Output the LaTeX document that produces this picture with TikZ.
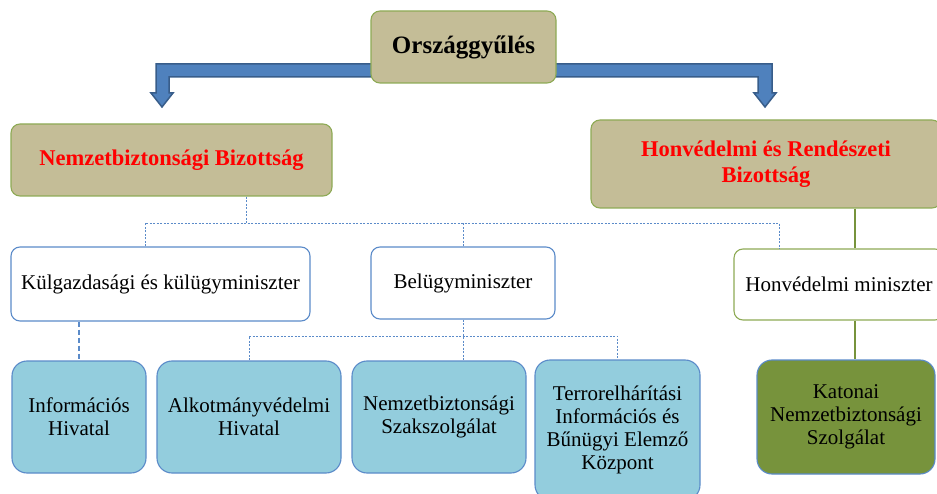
\documentclass[tikz,border=0pt]{standalone}
\usepackage{fontspec}
\setmainfont{Liberation Serif}
\usetikzlibrary{positioning}
\definecolor{tanfill}{HTML}{C4BD97}
\definecolor{bizline}{HTML}{8EAA55}
\definecolor{boxblue}{HTML}{5B8BC9}
\definecolor{lightblue}{HTML}{93CDDD}
\definecolor{armygreen}{HTML}{77933C}
\definecolor{arrowfill}{HTML}{4F81BD}
\definecolor{arrowline}{HTML}{385D8A}

\begin{document}
\begin{tikzpicture}[x=1pt, y=-1pt,
    box/.style={draw, rounded corners=9pt, align=center, inner sep=0pt, line width=1.1pt},
    parlbox/.style={box, fill=tanfill, draw=bizline, font=\bfseries\fontsize{25}{28}\selectfont},
    comm/.style={box, fill=tanfill, draw=bizline, text=red, font=\bfseries\fontsize{22.5}{26}\selectfont},
    mini/.style={box, fill=white, draw=boxblue, font=\fontsize{21}{23}\selectfont},
    serv/.style={box, rounded corners=15pt, fill=lightblue, draw=boxblue, font=\fontsize{21}{23}\selectfont},
    dline/.style={draw=boxblue, dash pattern=on 2pt off 1.5pt, line width=0.8pt},
    gline/.style={draw=armygreen, line width=2.5pt}]
    \useasboundingbox (0,0) rectangle (937,494);

    \filldraw[fill=arrowfill, draw=arrowline, line width=1.5pt, line join=miter]
        (156,64) -- (772,64) -- (772,93) -- (776,93) -- (765,107) -- (754,93) -- (758,93)
        -- (758,77) -- (169,77) -- (169,93) -- (173,93) -- (162,107) -- (151,93) -- (156,93) -- cycle;

    \node[parlbox, minimum width=185pt, minimum height=72pt] (parl) at (463.5,47) {Országgyűlés};
    \node[comm, minimum width=321pt, minimum height=72pt] (nbb) at (171.5,160) {Nemzetbiztonsági Bizottság};
    \node[comm, minimum width=350pt, minimum height=88pt] (hrb) at (766,164) {Honvédelmi és Rendészeti\\Bizottság};

    \node[mini, minimum width=299pt, minimum height=74pt] (kkm) at (160.5,284) {Külgazdasági és külügyminiszter};
    \node[mini, minimum width=184pt, minimum height=72pt] (bm) at (463,283) {Belügyminiszter};
    \node[mini, draw=bizline, minimum width=210pt, minimum height=71pt] (hm) at (839,284.5) {Honvédelmi miniszter};

    \node[serv, minimum width=134pt, minimum height=112pt] (ih) at (79,417) {Információs\\Hivatal};
    \node[serv, minimum width=184pt, minimum height=112pt] (ah) at (249,417) {Alkotmányvédelmi\\Hivatal};
    \node[serv, minimum width=174pt, minimum height=112pt] (nsz) at (439,417) {Nemzetbiztonsági\\Szakszolgálat};
    \node[serv, minimum width=165pt, minimum height=140pt] (tek) at (617.5,430) {Terrorelhárítási\\Információs és\\Bűnügyi Elemző\\Központ};
    \node[serv, fill=armygreen, minimum width=178pt, minimum height=114pt] (kat) at (846,417) {Katonai\\Nemzetbiztonsági\\Szolgálat};

    \coordinate (busN) at (246,223);
    \coordinate (busL) at (145,223);
    \coordinate (busR) at (779,223);
    \coordinate (busB) at (0,336);
    \coordinate (gx) at (855,0);

    \draw[dline] (nbb.south -| busN) -- (busN);
    \draw[dline] (kkm.north -| busL) -- (busL) -- (busR) -- (hm.north -| busR);
    \draw[dline] (bm.north) -- (bm.north |- busL);
    \draw[dline] (bm.south) -- (bm.south |- nsz.north);
    \draw[dline] (ah.north) -- (ah.north |- busB) -- (tek.north |- busB) -- (tek.north);
    \draw[dline, line width=1.8pt, dash pattern=on 5pt off 3pt] (ih.north |- kkm.south) -- (ih.north);

    \draw[gline] (hrb.south -| gx) -- (hm.north -| gx);
    \draw[gline] (hm.south -| gx) -- (kat.north -| gx);
\end{tikzpicture}
\end{document}
